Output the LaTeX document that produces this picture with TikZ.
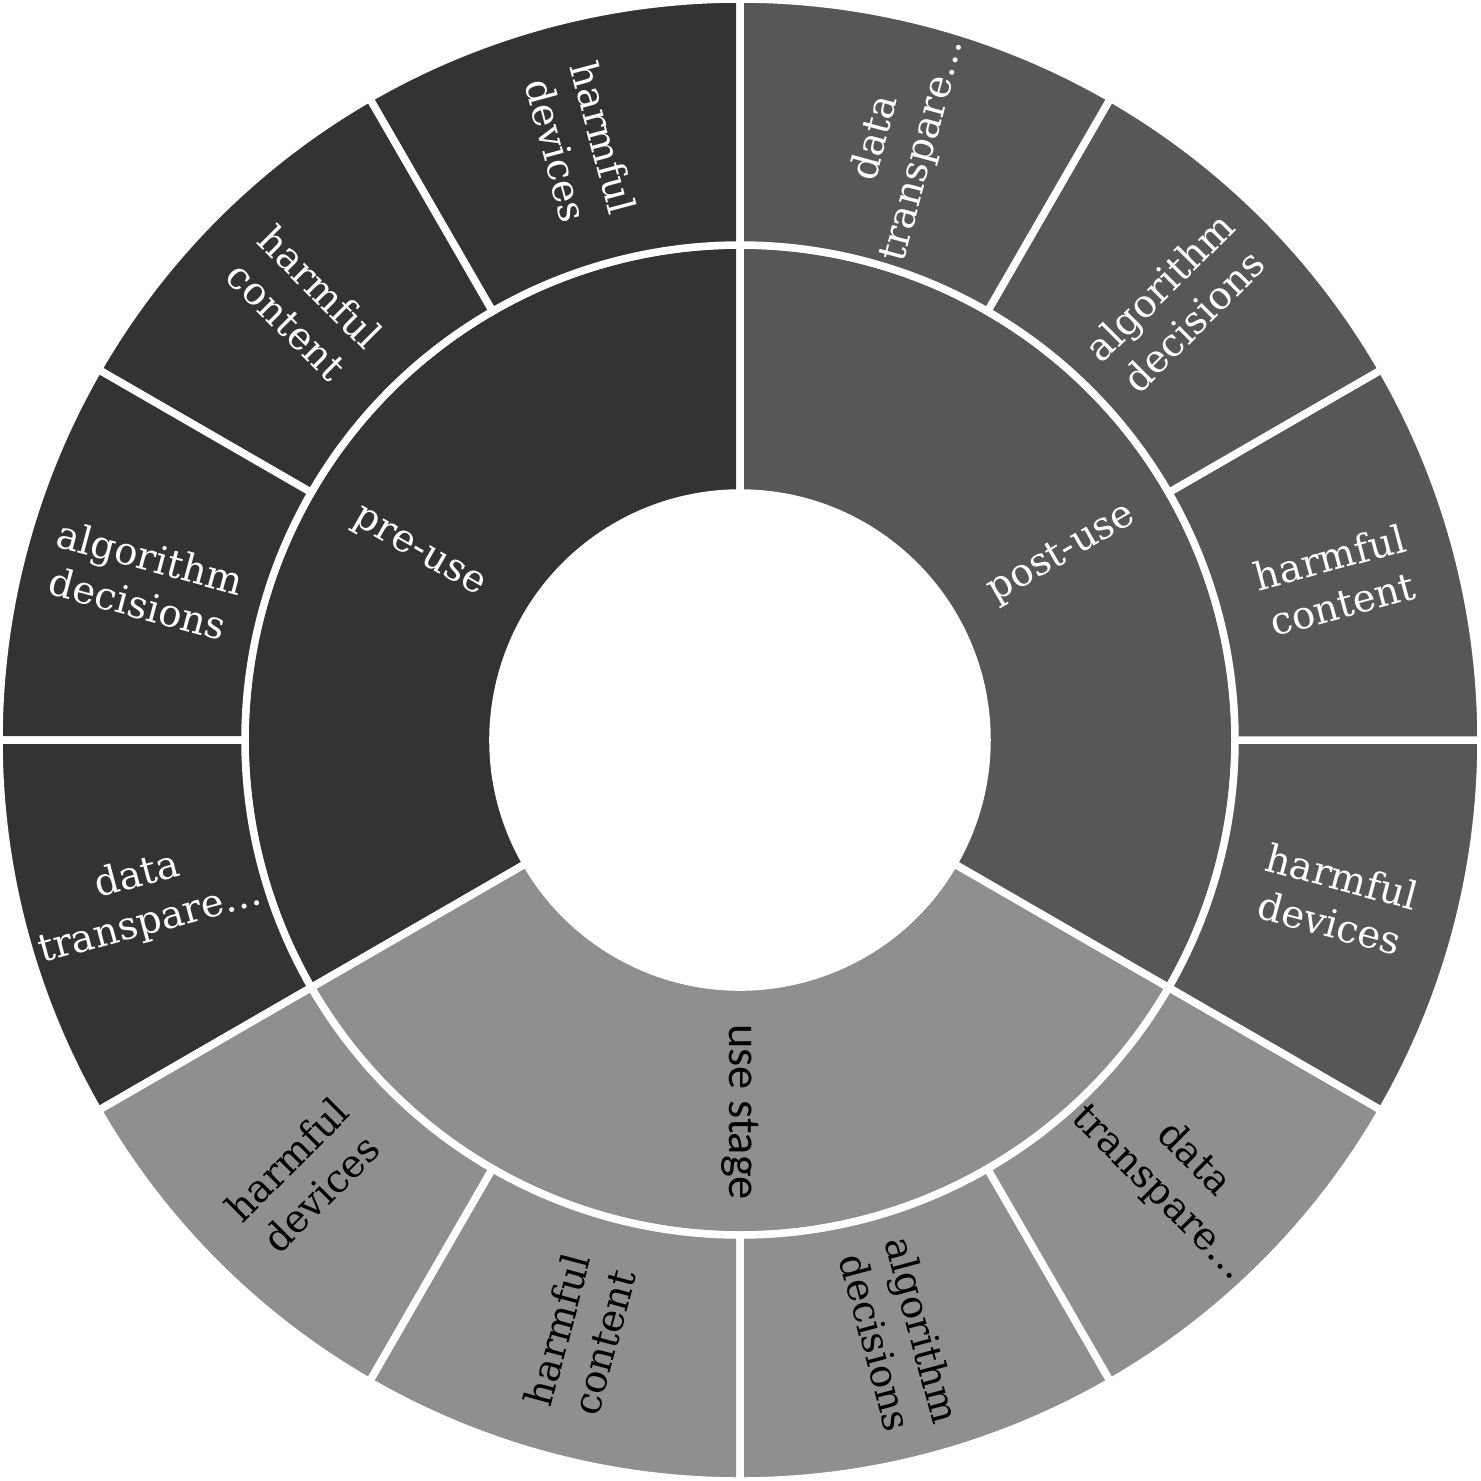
\documentclass[tikz,border=0pt]{standalone}
\usepackage{fontspec}
\setmainfont{DejaVu Serif}
\newfontfamily\carlito{Carlito}
\usetikzlibrary{positioning}
\definecolor{preuse}{gray}{0.2}
\definecolor{postuse}{gray}{0.34}
\definecolor{usestage}{gray}{0.56}

\begin{document}
\begin{tikzpicture}[semithick,
            sector/.style ={draw=white, line width=0.75mm},
            texto/.style ={align=center, inner sep=0pt, font=\fontsize{11}{13.7}\selectfont},
            claro/.style ={texto, text=white},
            oscuro/.style ={texto, text=black}]

        \useasboundingbox (-7.40,-7.40) rectangle (7.41,7.40);

        %%--------------------------anillo interior-------------

        \path[sector, fill=preuse] (90:4.95) arc (90:210:4.95) -- (210:2.47) arc (210:90:2.47) -- cycle;
        \path[sector, fill=usestage] (210:4.95) arc (210:330:4.95) -- (330:2.47) arc (330:210:2.47) -- cycle;
        \path[sector, fill=postuse] (-30:4.95) arc (-30:90:4.95) -- (90:2.47) arc (90:-30:2.47) -- cycle;

        %%--------------------------anillo exterior-------------

        \path[sector, fill=preuse] (90:7.41) arc (90:120:7.41) -- (120:4.95) arc (120:90:4.95) -- cycle;
        \path[sector, fill=preuse] (120:7.41) arc (120:150:7.41) -- (150:4.95) arc (150:120:4.95) -- cycle;
        \path[sector, fill=preuse] (150:7.41) arc (150:180:7.41) -- (180:4.95) arc (180:150:4.95) -- cycle;
        \path[sector, fill=preuse] (180:7.41) arc (180:210:7.41) -- (210:4.95) arc (210:180:4.95) -- cycle;

        \path[sector, fill=usestage] (210:7.41) arc (210:240:7.41) -- (240:4.95) arc (240:210:4.95) -- cycle;
        \path[sector, fill=usestage] (240:7.41) arc (240:270:7.41) -- (270:4.95) arc (270:240:4.95) -- cycle;
        \path[sector, fill=usestage] (270:7.41) arc (270:300:7.41) -- (300:4.95) arc (300:270:4.95) -- cycle;
        \path[sector, fill=usestage] (300:7.41) arc (300:330:7.41) -- (330:4.95) arc (330:300:4.95) -- cycle;

        \path[sector, fill=postuse] (-30:7.41) arc (-30:0:7.41) -- (0:4.95) arc (0:-30:4.95) -- cycle;
        \path[sector, fill=postuse] (0:7.41) arc (0:30:7.41) -- (30:4.95) arc (30:0:4.95) -- cycle;
        \path[sector, fill=postuse] (30:7.41) arc (30:60:7.41) -- (60:4.95) arc (60:30:4.95) -- cycle;
        \path[sector, fill=postuse] (60:7.41) arc (60:90:7.41) -- (90:4.95) arc (90:60:4.95) -- cycle;

        %%--------------------------etiquetas-------------------

        \node[claro, rotate=-30] (pre) at (150:3.72) {pre-use};
        \node[oscuro, rotate=-90, font=\carlito\fontsize{13.2}{15}\selectfont] (use) at (270:3.72) {use stage};
        \node[claro, rotate=30] (post) at (30:3.72) {post-use};

        \node[claro, rotate=-75] (pre1) at (105:6.17) {harmful\\devices};
        \node[claro, rotate=-45] (pre2) at (135:6.17) {harmful\\content};
        \node[claro, rotate=-15] (pre3) at (165:6.17) {algorithm\\decisions};
        \node[claro, rotate=15] (pre4) at (195:6.17) {data\\transpare…};

        \node[oscuro, rotate=45] (use1) at (225:6.17) {harmful\\devices};
        \node[oscuro, rotate=75] (use2) at (255:6.17) {harmful\\content};
        \node[oscuro, rotate=-75] (use3) at (285:6.17) {algorithm\\decisions};
        \node[oscuro, rotate=-45] (use4) at (315:6.17) {data\\transpare…};

        \node[claro, rotate=-15] (post1) at (-15:6.17) {harmful\\devices};
        \node[claro, rotate=15] (post2) at (15:6.17) {harmful\\content};
        \node[claro, rotate=45] (post3) at (45:6.17) {algorithm\\decisions};
        \node[claro, rotate=75] (post4) at (75:6.17) {data\\transpare…};

    \end{tikzpicture}
\end{document}
